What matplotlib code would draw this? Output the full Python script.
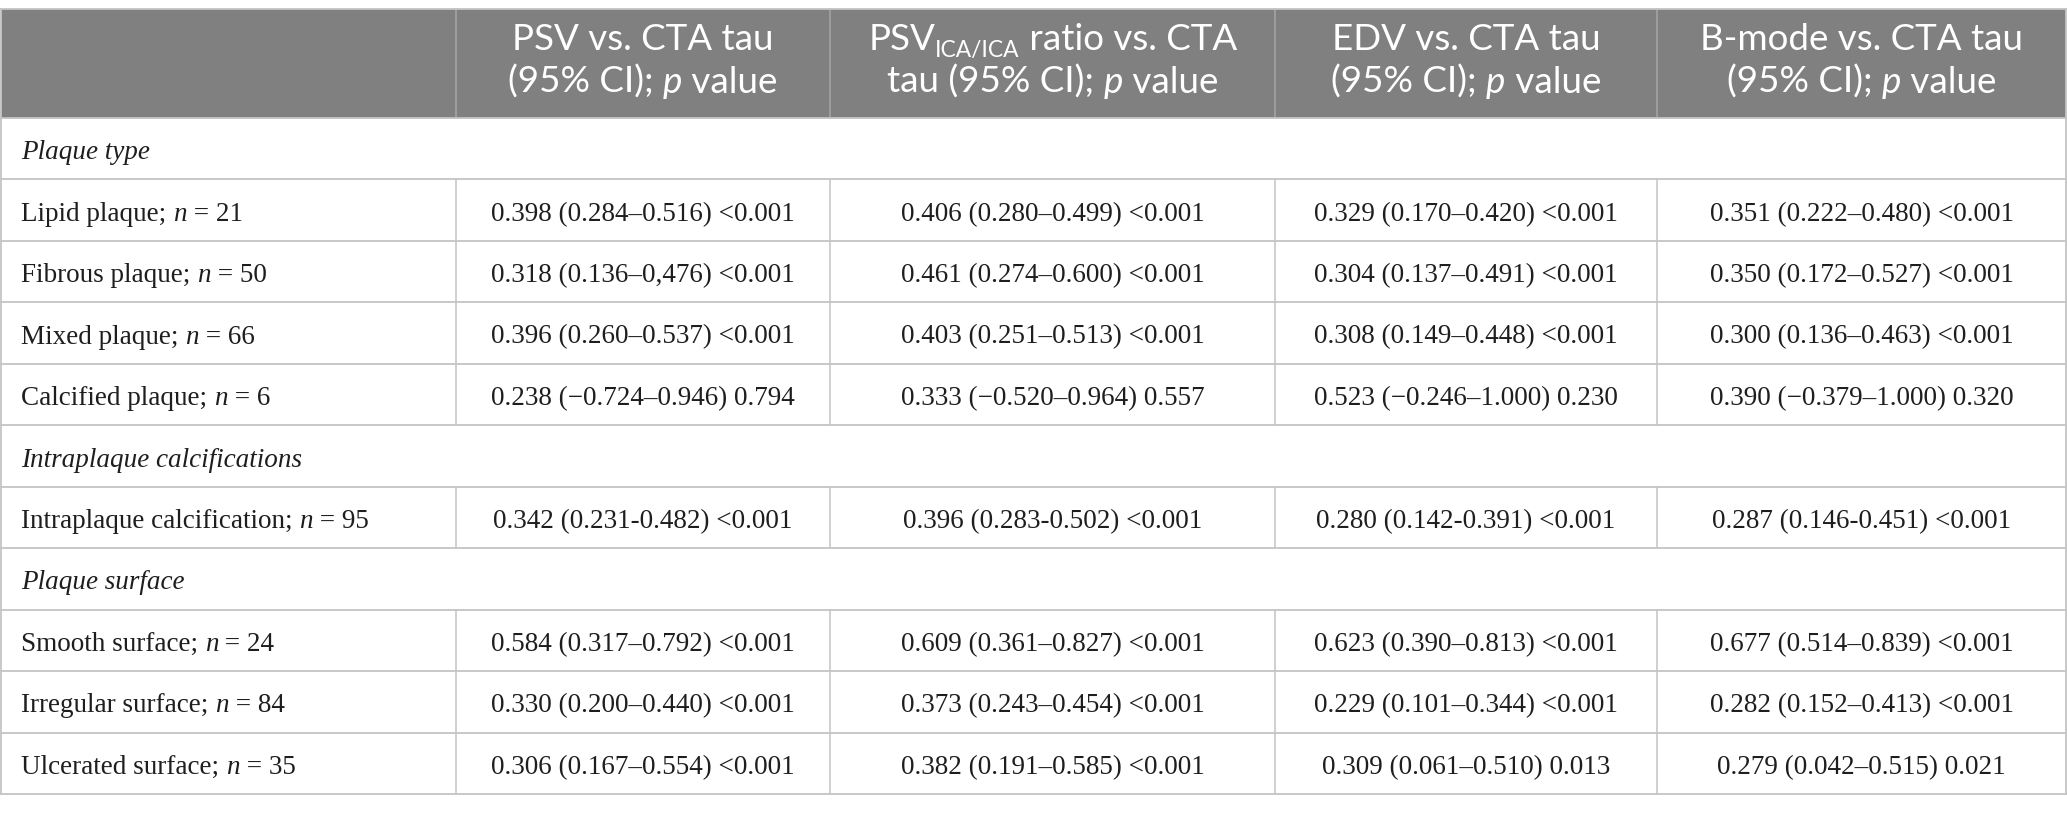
import matplotlib
matplotlib.use("Agg")
import matplotlib.pyplot as plt

# table content
header_cols = [
    [("PSV vs. CTA tau", None)],
    [("PSV", None), ("ICA/ICA", "sub"), (" ratio vs. CTA", None)],
    [("EDV vs. CTA tau", None)],
    [("B-mode vs. CTA tau", None)],
]
row_labels = [
    ("section", "Plaque type"),
    ("row", "Lipid plaque", "21"),
    ("row", "Fibrous plaque", "50"),
    ("row", "Mixed plaque", "66"),
    ("row", "Calcified plaque", "6"),
    ("section", "Intraplaque calcifications"),
    ("row", "Intraplaque calcification", "95"),
    ("section", "Plaque surface"),
    ("row", "Smooth surface", "24"),
    ("row", "Irregular surface", "84"),
    ("row", "Ulcerated surface", "35"),
]
psv_vals = ["0.398 (0.284\u20130.516) <0.001", "0.318 (0.136\u20130,476) <0.001",
            "0.396 (0.260\u20130.537) <0.001", "0.238 (\u22120.724\u20130.946) 0.794",
            "0.342 (0.231-0.482) <0.001",
            "0.584 (0.317\u20130.792) <0.001", "0.330 (0.200\u20130.440) <0.001",
            "0.306 (0.167\u20130.554) <0.001"]
ratio_vals = ["0.406 (0.280\u20130.499) <0.001", "0.461 (0.274\u20130.600) <0.001",
              "0.403 (0.251\u20130.513) <0.001", "0.333 (\u22120.520\u20130.964) 0.557",
              "0.396 (0.283-0.502) <0.001",
              "0.609 (0.361\u20130.827) <0.001", "0.373 (0.243\u20130.454) <0.001",
              "0.382 (0.191\u20130.585) <0.001"]
edv_vals = ["0.329 (0.170\u20130.420) <0.001", "0.304 (0.137\u20130.491) <0.001",
            "0.308 (0.149\u20130.448) <0.001", "0.523 (\u22120.246\u20131.000) 0.230",
            "0.280 (0.142-0.391) <0.001",
            "0.623 (0.390\u20130.813) <0.001", "0.229 (0.101\u20130.344) <0.001",
            "0.309 (0.061\u20130.510) 0.013"]
bmode_vals = ["0.351 (0.222\u20130.480) <0.001", "0.350 (0.172\u20130.527) <0.001",
              "0.300 (0.136\u20130.463) <0.001", "0.390 (\u22120.379\u20131.000) 0.320",
              "0.287 (0.146-0.451) <0.001",
              "0.677 (0.514\u20130.839) <0.001", "0.282 (0.152\u20130.413) <0.001",
              "0.279 (0.042\u20130.515) 0.021"]

W, H = 2067, 813
col_x = [1, 456, 830, 1275, 1657, 2066]
top, head_bot, bottom = 9, 118, 794
row_h = (bottom - head_bot) / len(row_labels)

HEAD_BG = "#808080"
GRID = "#c4c4c4"
TXT = "#1e1e1e"
SANS = "Lato"
SERIF = "Liberation Serif"
HEAD_FS = 26.5
BODY_FS = 19.5

fig = plt.figure(figsize=(W / 100, H / 100), dpi=100)
ax = fig.add_axes([0, 0, 1, 1])
ax.set_xlim(0, W)
ax.set_ylim(H, 0)
ax.axis("off")
renderer = fig.canvas.get_renderer()


def seg_width(s, props):
    a = ax.text(0, 0, "|" + s + "|", **props)
    b = ax.text(0, 0, "||", **props)
    w = a.get_window_extent(renderer).width - b.get_window_extent(renderer).width
    a.remove()
    b.remove()
    return w


def draw_segs(x, y, segs, ha="center"):
    # segs: list of (text, props, dy)
    widths = [seg_width(s, p) for s, p, dy in segs]
    total = sum(widths)
    cur = x - total / 2 if ha == "center" else x
    for (s, p, dy), w in zip(segs, widths):
        ax.text(cur, y + dy, s, va="baseline", ha="left", **p)
        cur += w


head_rm = dict(family=SANS, fontsize=HEAD_FS, color="white")
head_it = dict(family=SANS, fontsize=HEAD_FS, color="white", style="italic")
head_sub = dict(family=SANS, fontsize=HEAD_FS * 0.62, color="white")
body_rm = dict(family=SERIF, fontsize=BODY_FS, color=TXT)
body_it = dict(family=SERIF, fontsize=BODY_FS, color=TXT, style="italic")

# header background
ax.fill_between([col_x[0], col_x[-1]], top, head_bot, color=HEAD_BG, lw=0)

second_lines = [
    [("(95% CI); ", head_rm, 0), ("p", head_it, 0), (" value", head_rm, 0)],
    [("tau (95% CI); ", head_rm, 0), ("p", head_it, 0), (" value", head_rm, 0)],
    [("(95% CI); ", head_rm, 0), ("p", head_it, 0), (" value", head_rm, 0)],
    [("(95% CI); ", head_rm, 0), ("p", head_it, 0), (" value", head_rm, 0)],
]
for i, parts in enumerate(header_cols):
    cx = (col_x[i + 1] + col_x[i + 2]) / 2
    segs = []
    for s, kind in parts:
        if kind == "sub":
            segs.append((s, head_sub, 7))
        else:
            segs.append((s, head_rm, 0))
    draw_segs(cx, 50, segs)
    draw_segs(cx, 93, second_lines[i])

# header separators
for x in col_x[1:-1]:
    ax.plot([x, x], [top, head_bot], color="#a6a6a6", lw=1.1)

value_cols = [psv_vals, ratio_vals, edv_vals, bmode_vals]
k = 0
for r, lab in enumerate(row_labels):
    y0 = head_bot + r * row_h
    y1 = y0 + row_h
    base = (y0 + y1) / 2 + 10.5
    if lab[0] == "section":
        draw_segs(21, base, [(lab[1], body_it, 0)], ha="left")
    else:
        draw_segs(21, base, [(lab[1] + "; ", body_rm, 0), ("n", body_it, 0),
                             (" = " + lab[2], body_rm, 0)], ha="left")
        for j, vals in enumerate(value_cols):
            cx = (col_x[j + 1] + col_x[j + 2]) / 2
            draw_segs(cx, base, [(vals[k], body_rm, 0)])
        for x in col_x[1:-1]:
            ax.plot([x, x], [y0, y1], color=GRID, lw=1.1)
        k += 1
    ax.plot([col_x[0], col_x[-1]], [y1, y1], color=GRID, lw=1.3)

# outer border
ax.plot([col_x[0], col_x[-1]], [top, top], color=GRID, lw=1.3)
ax.plot([col_x[0], col_x[0]], [top, bottom], color=GRID, lw=1.3)
ax.plot([col_x[-1], col_x[-1]], [top, bottom], color=GRID, lw=1.3)
ax.plot([col_x[0], col_x[-1]], [head_bot, head_bot], color=GRID, lw=1.3)

fig.savefig("out.png", dpi=100, facecolor="white")
